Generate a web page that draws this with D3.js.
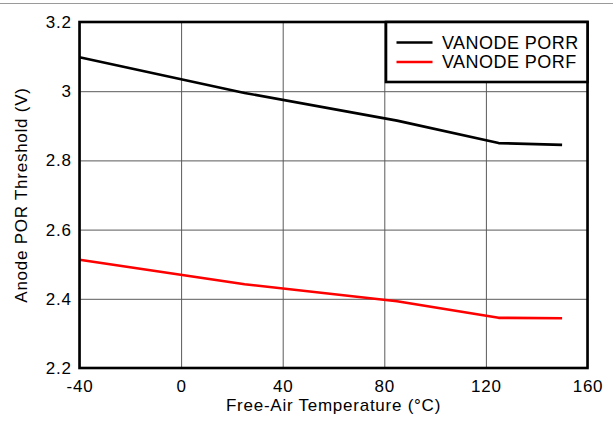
<!DOCTYPE html>
<html>
<head>
<meta charset="utf-8">
<script src="https://cdn.jsdelivr.net/npm/d3@7"></script>
<style>
  html, body { margin: 0; padding: 0; background: #fff; }
  svg { display: block; }
  text { font-family: "Liberation Sans", Arial, sans-serif; fill: #000; }
</style>
</head>
<body>
<svg id="chart" width="613" height="421"></svg>
<script>
// Anode POR threshold vs. free-air temperature
const temperatures = [-40, 25, 85, 125, 150];
const porrValues = [3.098, 2.995, 2.915, 2.850, 2.845];
const porfValues = [2.513, 2.442, 2.393, 2.345, 2.344];
const seriesNames = ["VANODE PORR", "VANODE PORF"];
const seriesColors = ["#000000", "#ff0000"];
const xTicks = [-40, 0, 40, 80, 120, 160];
const xTickLabels = ["-40", "0", "40", "80", "120", "160"];
const yTicks = [2.2, 2.4, 2.6, 2.8, 3.0, 3.2];
const yTickLabels = ["2.2", "2.4", "2.6", "2.8", "3", "3.2"];

const FONT = '"Liberation Sans", Arial, sans-serif';
const svg = d3.select("#chart");
const margin = { left: 79.5, right: 25.5, top: 22, bottom: 53 };
const W = 613, H = 421;
const w = W - margin.left - margin.right;
const h = H - margin.top - margin.bottom;

// thin rule along the top of the page
svg.append("line")
  .attr("x1", 0).attr("x2", W).attr("y1", 3.5).attr("y2", 3.5)
  .attr("stroke", "#9a9a9a").attr("stroke-width", 1);

const g = svg.append("g").attr("transform", `translate(${margin.left},${margin.top})`);

const x = d3.scaleLinear().domain([-40, 160]).range([0, w]);
const y = d3.scaleLinear().domain([2.2, 3.2]).range([h, 0]);

// grid + tick labels through the axes
const xAxis = g.append("g")
  .attr("transform", `translate(0,${h})`)
  .call(d3.axisBottom(x).tickValues(xTicks).tickSize(-h).tickPadding(11.5)
    .tickFormat((d, i) => xTickLabels[i]));
const yAxis = g.append("g")
  .call(d3.axisLeft(y).tickValues(yTicks).tickSize(-w).tickPadding(7.8)
    .tickFormat((d, i) => yTickLabels[i]));

[xAxis, yAxis].forEach(ax => {
  ax.select(".domain").remove();
  ax.selectAll(".tick line").attr("stroke", "#5a5a5a").attr("stroke-width", 1);
  ax.selectAll(".tick text")
    .style("font-size", "17px")
    .style("letter-spacing", "0.75px")
    .style("font-family", FONT)
    .attr("fill", "#000");
});

// data lines
const line = d3.line().x(d => x(d[0])).y(d => y(d[1]));
const series = [porrValues, porfValues];
series.forEach((vals, i) => {
  g.append("path")
    .datum(temperatures.map((t, j) => [t, vals[j]]))
    .attr("fill", "none")
    .attr("stroke", seriesColors[i])
    .attr("stroke-width", 2.6)
    .attr("stroke-linejoin", "round")
    .attr("d", line);
});

// plot frame
g.append("rect")
  .attr("x", 0).attr("y", 0).attr("width", w).attr("height", h)
  .attr("fill", "none").attr("stroke", "#000").attr("stroke-width", 2.6);

// legend
const lg = g.append("g").attr("transform", `translate(${x(-40) + 306.5},0)`);
lg.append("rect")
  .attr("x", 0).attr("y", 0).attr("width", w - 306.5).attr("height", 60)
  .attr("fill", "#fff").attr("stroke", "#000").attr("stroke-width", 2.6);
seriesNames.forEach((name, i) => {
  const yy = 20.5 + i * 19.5;
  lg.append("line")
    .attr("x1", 10.5).attr("x2", 46.5).attr("y1", yy).attr("y2", yy)
    .attr("stroke", seriesColors[i]).attr("stroke-width", 2.6);
  lg.append("text")
    .attr("x", 56).attr("y", yy + 6.3)
    .style("font-size", "18px")
    .style("letter-spacing", "0.45px")
    .text(name);
});

// axis titles
svg.append("text")
  .attr("x", margin.left + w / 2).attr("y", 411)
  .attr("text-anchor", "middle")
  .style("font-size", "17px")
  .style("letter-spacing", "0.75px")
  .text("Free-Air Temperature (°C)");
svg.append("text")
  .attr("transform", `translate(27,${margin.top + h / 2}) rotate(-90)`)
  .attr("text-anchor", "middle")
  .style("font-size", "17px")
  .style("letter-spacing", "0.75px")
  .text("Anode POR Threshold (V)");
</script>
</body>
</html>
